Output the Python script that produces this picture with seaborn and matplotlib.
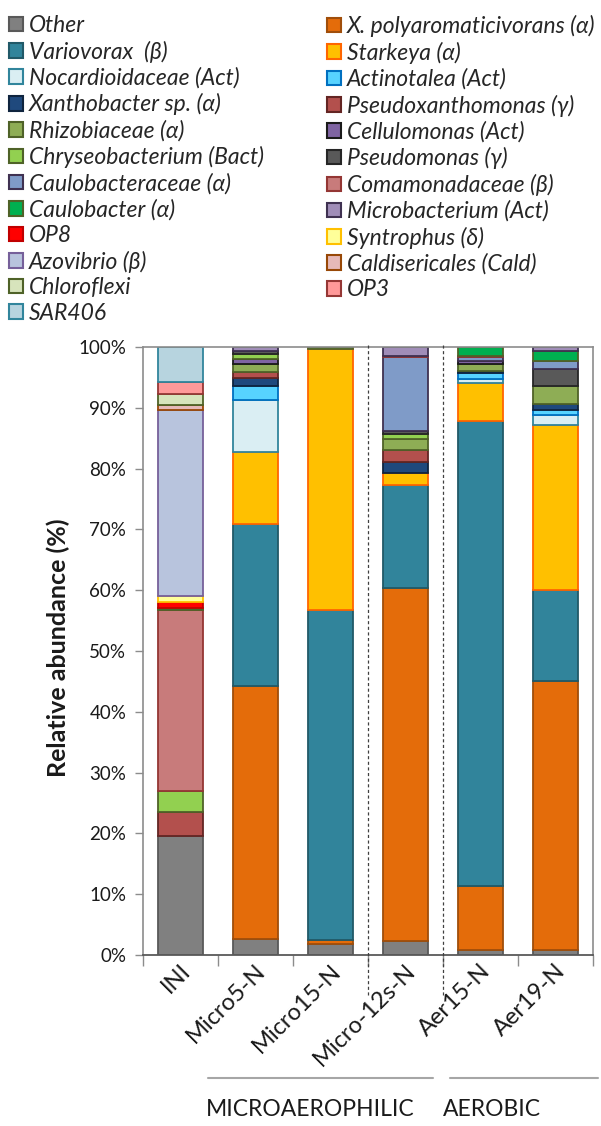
import numpy as np
import pandas as pd
import matplotlib
matplotlib.use("Agg")
import matplotlib.pyplot as plt
import matplotlib.transforms as mtransforms
from matplotlib.patches import Patch
from matplotlib.lines import Line2D
import seaborn as sns

# ---- data -------------------------------------------------------------
samples = ["INI", "Micro5-N", "Micro15-N", "Micro-12s-N", "Aer15-N", "Aer19-N"]

taxa = [
    "Other", "X. polyaromaticivorans (α)", "Variovorax  (β)", "Starkeya (α)",
    "Nocardioidaceae (Act)", "Actinotalea (Act)", "Xanthobacter sp. (α)",
    "Pseudoxanthomonas (γ)", "Rhizobiaceae (α)", "Cellulomonas (Act)",
    "Chryseobacterium (Bact)", "Pseudomonas (γ)", "Caulobacteraceae (α)",
    "Comamonadaceae (β)", "Caulobacter (α)", "Microbacterium (Act)", "OP8",
    "Syntrophus (δ)", "Azovibrio (β)", "Caldisericales (Cald)", "Chloroflexi",
    "OP3", "SAR406",
]

fills = [
    "#808080", "#E46C0A", "#31849B", "#FFC000", "#DAEEF3", "#57D3FF",
    "#1F497D", "#B3504D", "#8EAD55", "#7F64A2", "#92D050", "#595959",
    "#7F9BC8", "#C87B7B", "#00B050", "#A08DB8", "#FF0000", "#FFFF99",
    "#B8C4DD", "#E6B9B8", "#D7E4BC", "#FF9999", "#B7D4DF",
]

edges = [
    "#595959", "#A04E0A", "#215968", "#FF6600", "#31859C", "#0070C0",
    "#0F243E", "#632523", "#4F6228", "#1A1A1A", "#4F6228", "#262626",
    "#3F3151", "#943634", "#4F6228", "#3F3151", "#C00000", "#FFC000",
    "#76609A", "#984807", "#4F6228", "#953735", "#31859C",
]

# relative abundance (%) per sample, in the order of `taxa`
ini = [19.6, 0, 0, 0, 0, 0, 0, 3.9, 0, 0, 3.5, 0, 0, 29.7, 0.3, 0, 1.0, 1.0,
       30.6, 0.9, 1.8, 1.9, 5.8]
micro5 = [2.7, 41.5, 26.7, 11.8, 8.6, 2.3, 1.3, 1.0, 1.3, 0.9, 0.8, 0.5, 0, 0,
          0, 0.6, 0, 0, 0, 0, 0, 0, 0]
micro15 = [1.8, 0.7, 54.2, 43.0, 0, 0, 0, 0, 0.3, 0, 0, 0, 0, 0, 0, 0, 0, 0,
           0, 0, 0, 0, 0]
micro12s = [2.3, 58.1, 16.9, 1.9, 0, 0, 1.9, 2.0, 1.7, 0, 0.9, 0.5, 12.1, 0.2,
            0, 1.5, 0, 0, 0, 0, 0, 0, 0]
aer15 = [0.8, 10.6, 76.5, 6.1, 0.7, 1.0, 0.4, 0, 1.1, 0.5, 0, 0, 0.6, 0.2,
         1.5, 0, 0, 0, 0, 0, 0, 0, 0]
aer19 = [0.8, 44.2, 15.0, 27.2, 1.6, 0.8, 1.1, 0, 2.9, 0, 0, 2.7, 1.4, 0,
         1.6, 0.7, 0, 0, 0, 0, 0, 0, 0]

groups = ["MICROAEROPHILIC", "AEROBIC"]

# ---- figure -----------------------------------------------------------
sns.set_theme(style="white")
plt.rcParams["font.family"] = ["Lato", "DejaVu Sans"]

W, H = 601, 1126
fig = plt.figure(figsize=(W / 100, H / 100), dpi=100)
ax = fig.add_axes([143 / W, 1 - 955 / H, 450 / W, 608 / H])

table = pd.DataFrame(
    {s: v for s, v in zip(samples, [ini, micro5, micro15, micro12s, aer15, aer19])},
    index=taxa,
)

sample_arr = np.array(samples)
bottom = np.zeros(len(samples))
for taxon, fc, ec in zip(taxa, fills, edges):
    vals = table.loc[taxon].to_numpy(dtype=float)
    keep = vals > 0
    sns.barplot(
        x=sample_arr[keep], y=vals[keep], order=samples, bottom=bottom[keep],
        color=fc, edgecolor=ec, linewidth=1.3, width=0.61, saturation=1,
        errorbar=None, ax=ax,
    )
    bottom += vals

# ---- axes styling -----------------------------------------------------
ax.set_xlim(-0.5, len(samples) - 0.5)
ax.set_ylim(0, 100)
ax.set_xlabel("")
ax.set_ylabel("")

ax.set_yticks(np.arange(0, 101, 10))
ax.set_yticklabels([f"{v}%" for v in range(0, 101, 10)])
ax.tick_params(axis="y", which="major", direction="out", length=6, width=1,
               color="#8C8C8C", pad=6, labelsize=13.5, labelcolor="#1A1A1A",
               left=True)

ax.set_xticks(np.arange(len(samples)))
ax.set_xticklabels(samples, rotation=45, ha="right", va="center",
                   rotation_mode="anchor", fontsize=17, color="#1A1A1A")
ax.set_xticks(np.arange(len(samples) + 1) - 0.5, minor=True)
ax.tick_params(axis="x", which="major", length=0, pad=9, bottom=True)
ax.tick_params(axis="x", which="minor", direction="out", length=8, width=1,
               color="#8C8C8C", bottom=True)
offset = mtransforms.ScaledTranslation(7 / 100, 0, fig.dpi_scale_trans)
for lab in ax.get_xticklabels():
    lab.set_transform(lab.get_transform() + offset)

for side in ["left", "top", "right"]:
    ax.spines[side].set_visible(True)
    ax.spines[side].set_color("#8C8C8C")
    ax.spines[side].set_linewidth(1.2)
ax.spines["bottom"].set_color("#595959")
ax.spines["bottom"].set_linewidth(1.3)
ax.grid(False)

# dashed separators between sample sets
trans = mtransforms.blended_transform_factory(ax.transData, ax.transAxes)
for xpos in (2.5, 3.5):
    ax.plot([xpos, xpos], [-0.066, 1.004], transform=trans, color="#404040",
            lw=0.9, ls=(0, (2.5, 2)), clip_on=False, zorder=5)

fig.text(58 / W, 1 - 648 / H, "Relative abundance (%)", rotation=90,
         ha="center", va="center", fontsize=18, fontweight="bold",
         color="#1A1A1A")

# group brackets
for (x0, x1), name, xc in zip([(208, 433), (450, 598)], groups, [310, 492]):
    fig.add_artist(Line2D([x0 / W, x1 / W], [1 - 1078 / H] * 2,
                          color="#A6A6A6", lw=1.5))
    fig.text(xc / W, 1 - 1110 / H, name, ha="center", va="center",
             fontsize=16.5, color="#1A1A1A")

# ---- legend: two columns ---------------------------------------------
handles = [Patch(facecolor=fc, edgecolor=ec, linewidth=1.5)
           for fc, ec in zip(fills, edges)]
left_idx = list(range(0, len(taxa), 2))
right_idx = list(range(1, len(taxa), 2))
leg_kw = dict(loc="upper left", frameon=False, borderpad=0, borderaxespad=0,
              handlelength=0.6, handleheight=0.6, handletextpad=0.28,
              labelspacing=0.2, prop={"family": ["Lato", "DejaVu Sans"],
                                      "style": "italic", "size": 16.5})
leg1 = fig.legend([handles[i] for i in left_idx], [taxa[i] for i in left_idx],
                  bbox_to_anchor=(9 / W, 1 - 15 / H), **leg_kw)
leg2 = fig.legend([handles[i] for i in right_idx], [taxa[i] for i in right_idx],
                  bbox_to_anchor=(327 / W, 1 - 15 / H), **leg_kw)

fig.savefig("out.png", dpi=100)
